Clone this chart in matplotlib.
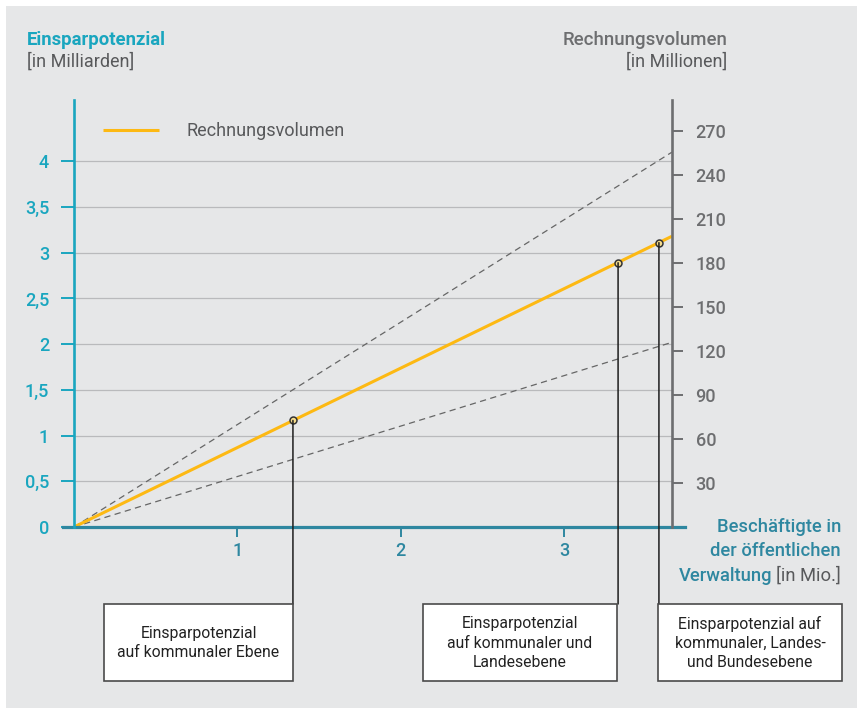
import matplotlib
matplotlib.use("Agg")
import matplotlib.pyplot as plt
from matplotlib.patches import Rectangle, ConnectionPatch
from matplotlib.lines import Line2D
from matplotlib.transforms import blended_transform_factory

plt.rcParams['font.family'] = ['Roboto', 'DejaVu Sans']

# ---------------- data ----------------
x_ticks = [1, 2, 3]
left_ticks = [0, 0.5, 1, 1.5, 2, 2.5, 3, 3.5, 4]
left_labels = ['0', '0,5', '1', '1,5', '2', '2,5', '3', '3,5', '4']
right_ticks = [30, 60, 90, 120, 150, 180, 210, 240, 270]

line_x = [0, 3.66]
rechnung_y = [0, 3.18]       # Rechnungsvolumen (orange)
upper_y = [0, 4.10]          # upper dashed bound
lower_y = [0, 2.02]          # lower dashed bound

point_x = [1.34, 3.33, 3.58]      # Beschäftigte [Mio.]
point_y = [1.165, 2.89, 3.11]     # Einsparpotenzial [Mrd.]

box_texts = ["Einsparpotenzial\nauf kommunaler Ebene",
             "Einsparpotenzial\nauf kommunaler und\nLandesebene",
             "Einsparpotenzial auf\nkommunaler, Landes-\nund Bundesebene"]

ratio_right = 62.4  # right-axis units per left-axis unit

# ---------------- style ----------------
W, H = 857, 708
TEAL = '#1aa6bf'
TEAL_D = '#2e87a0'
GRAY_AX = '#6d6e70'
GRAY_T = '#58595b'
ORANGE = '#fdb913'
BG = '#e6e7e8'
TICK_FS = 13

def fx(px):
    return px / W

def fy(py):
    return 1 - py / H

fig = plt.figure(figsize=(W / 100, H / 100), dpi=100)
fig.patch.set_facecolor('white')
fig.add_artist(Rectangle((fx(6), 0), 1, fy(6), transform=fig.transFigure,
                         facecolor=BG, edgecolor='none', zorder=-10))

ax = fig.add_axes([fx(74), fy(527), (672 - 74) / W, (527 - 100) / H])
ax.patch.set_alpha(0)
xmax = 3.66
ymax = 4.67
ax.set_xlim(0, xmax)
ax.set_ylim(0, ymax)

for s in ['top', 'right', 'bottom']:
    ax.spines[s].set_visible(False)
ax.spines['left'].set_color(TEAL)
ax.spines['left'].set_linewidth(1.9)
ax.spines['left'].set_zorder(5)

ax.set_yticks(left_ticks)
ax.set_yticklabels(left_labels)
ax.tick_params(axis='y', direction='out', length=9.4, width=1.4, color=TEAL,
               labelcolor=TEAL, labelsize=TICK_FS, pad=8.5)
ax.set_xticks(x_ticks)
ax.set_xticklabels([str(v) for v in x_ticks])
ax.tick_params(axis='x', direction='out', length=7, width=1.4, color=TEAL_D,
               labelcolor=TEAL_D, labelsize=TICK_FS, pad=4)
for lab in ax.get_yticklabels() + ax.get_xticklabels():
    lab.set_fontweight('medium')
ax.yaxis.grid(True, color='#b9babc', linewidth=0.9)
ax.set_axisbelow(True)

# x axis line extended beyond the plot
ax.add_line(Line2D([-0.07, 3.74], [0, 0], color=TEAL_D, linewidth=2.3,
                   clip_on=False, zorder=4))

ax2 = ax.twinx()
ax2.set_ylim(0, ymax * ratio_right)
for s in ['top', 'left', 'bottom']:
    ax2.spines[s].set_visible(False)
ax2.spines['right'].set_color(GRAY_AX)
ax2.spines['right'].set_linewidth(1.9)
ax2.set_yticks(right_ticks)
ax2.tick_params(axis='y', direction='out', length=8, width=1.4, color=GRAY_AX,
                labelcolor=GRAY_AX, labelsize=TICK_FS, pad=9)
for lab in ax2.get_yticklabels():
    lab.set_fontweight('medium')

# lines
ax.plot(line_x, upper_y, color='#666666', linewidth=0.9,
        linestyle=(0, (5, 3.5)), zorder=2)
ax.plot(line_x, lower_y, color='#666666', linewidth=0.9,
        linestyle=(0, (5, 3.5)), zorder=2)
ax.plot(line_x, rechnung_y, color=ORANGE, linewidth=2.2, zorder=3,
        label='Rechnungsvolumen', solid_capstyle='butt')
ax.plot(point_x, point_y, 'o', markersize=5, markerfacecolor='#f6dc8c',
        markeredgecolor='#333333', markeredgewidth=1.1, zorder=6,
        clip_on=False)

leg = ax.legend(loc='center left', bbox_to_anchor=(fx(103), fy(131)),
                bbox_transform=fig.transFigure, frameon=False, fontsize=13,
                handlelength=3.1, handletextpad=1.5, borderpad=0,
                borderaxespad=0)
for t in leg.get_texts():
    t.set_color(GRAY_T)

# boxes and connectors
boxes = [(104, 293), (423, 617), (658, 842)]
box_top, box_bot = 604, 681
blend = blended_transform_factory(ax.transData, fig.transFigure)
for (xl, xr), txt, px, py in zip(boxes, box_texts, point_x, point_y):
    fig.add_artist(Rectangle((fx(xl), fy(box_bot)), (xr - xl) / W,
                             (box_bot - box_top) / H, transform=fig.transFigure,
                             facecolor='white', edgecolor='#4a4a4a',
                             linewidth=1.2, zorder=3))
    cp = ConnectionPatch(xyA=(px, py), coordsA=ax.transData,
                         xyB=(px, fy(box_top)), coordsB=blend,
                         color='#1e1e1e', linewidth=1.1, zorder=2)
    fig.add_artist(cp)
    fig.text(fx((xl + xr) / 2), fy(643), txt, ha='center', va='center',
             multialignment='center', fontsize=11.3, color='#222222',
             linespacing=1.35, zorder=4)

# titles
fig.text(fx(27), fy(40), 'Einsparpotenzial', ha='left', va='center',
         fontsize=13.3, fontweight='bold', color=TEAL)
fig.text(fx(27), fy(62), '[in Milliarden]', ha='left', va='center',
         fontsize=13, color=GRAY_T)
fig.text(fx(727), fy(40), 'Rechnungsvolumen', ha='right', va='center',
         fontsize=13.4, fontweight='medium', color=GRAY_AX)
fig.text(fx(727), fy(62), '[in Millionen]', ha='right', va='center',
         fontsize=13, color=GRAY_T)

fig.text(fx(841), fy(527), 'Beschäftigte in', ha='right', va='center',
         fontsize=13.2, fontweight='medium', color=TEAL_D)
fig.text(fx(841), fy(551), 'der öffentlichen', ha='right', va='center',
         fontsize=13.2, fontweight='medium', color=TEAL_D)
tb = fig.text(fx(841), fy(576), '[in Mio.]', ha='right', va='center',
              fontsize=13.2, color=GRAY_T)
ax.annotate('Verwaltung', xy=(0, 0.5), xycoords=tb, xytext=(-3, 0),
            textcoords='offset points', ha='right', va='center',
            fontsize=13.2, fontweight='medium', color=TEAL_D,
            annotation_clip=False)

fig.savefig('out.png', dpi=100)
